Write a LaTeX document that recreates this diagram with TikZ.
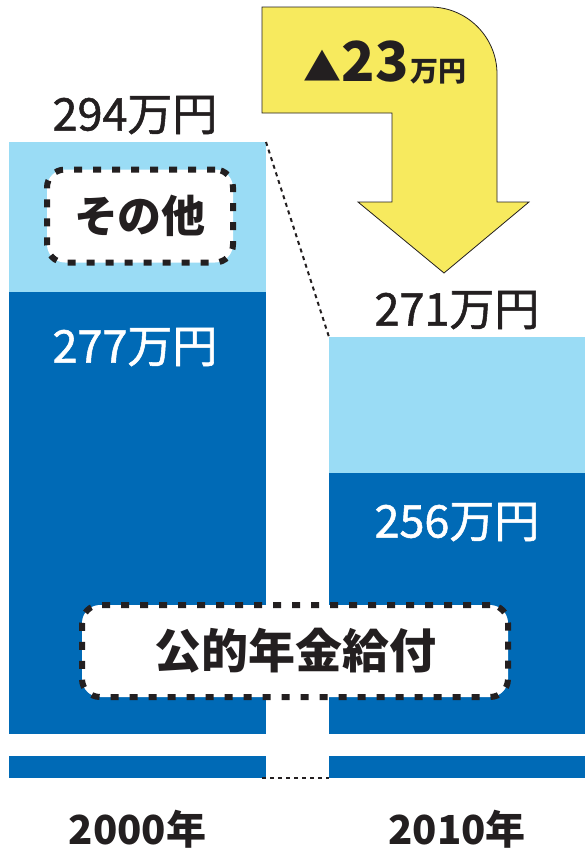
\documentclass[tikz,border=0pt]{standalone}
\usepackage{fontspec}
\setmainfont{Noto Sans CJK JP}
\newfontfamily\numfont[FakeBold=1.2]{Noto Sans CJK JP}
\usetikzlibrary{positioning}
\definecolor{paleblue}{HTML}{9ADCF5}
\definecolor{deepblue}{HTML}{006AB6}
\definecolor{pennyyellow}{HTML}{F7EA5E}
\definecolor{inkblack}{HTML}{231F20}

\begin{document}
\begin{tikzpicture}[x=1pt,y=-1pt,
    bar/.style={inner sep=0pt,outer sep=0pt,anchor=north west,minimum width=257pt},
    amount/.style={font=\numfont\fontsize{45}{45}\selectfont,inner sep=0pt},
    year/.style={font=\bfseries\fontsize{40}{40}\selectfont,text=inkblack,inner sep=0pt},
    tag/.style={draw=inkblack,line width=6pt,dash pattern=on 8pt off 11pt,
      rounded corners=18pt,fill=white,text=inkblack,inner sep=0pt,
      font=\bfseries\fontsize{44}{44}\selectfont},
    guide/.style={draw=inkblack,line width=2pt,dash pattern=on 4pt off 4pt}]
    \useasboundingbox (0,0) rectangle (585,855);
    % 2000 bars
    \node[bar,fill=paleblue,minimum height=150pt] (other0) at (9,142) {};
    \node[bar,fill=deepblue,minimum height=442pt] (pension0) at (other0.south west) {};
    \node[bar,fill=deepblue,minimum height=22pt] (foot0) at (9,756) {};
    % 2010 bars
    \node[bar,fill=paleblue,minimum height=136pt,minimum width=256pt] (other1) at (329,337) {};
    \node[bar,fill=deepblue,minimum height=261pt,minimum width=256pt] (pension1) at (other1.south west) {};
    \node[bar,fill=deepblue,minimum height=22pt,minimum width=256pt] (foot1) at (329,756) {};

    % guide lines between the years
    \draw[guide] (other0.north east) -- (other1.north west);
    \draw[guide] ([xshift=-4pt]foot0.south east) -- (foot1.south west);

    % drop arrow
    \fill[pennyyellow,draw=inkblack,line width=0.8pt] (262,7) -- (430,7)
      .. controls (467,7) and (497,37) .. (497,74) -- (497,202) -- (529,202)
      -- (444,273) -- (358,202) -- (392,202) -- (392,113) -- (262,113) -- cycle;
    \node[text=inkblack,inner sep=0pt] (drop) at (385,62)
      {{\fontsize{38}{38}\selectfont ▲}{\bfseries\fontsize{55}{55}\selectfont 23}\,{\bfseries\fontsize{28}{28}\selectfont 万円}};

    % totals and pension amounts
    \node[amount,text=inkblack] (total0) at (135,115) {294万円};
    \node[amount,text=inkblack] (total1) at (457,310) {271万円};
    \node[amount,text=white] (amt0) at (135,347) {277万円};
    \node[amount,text=white] (amt1) at (457,522) {256万円};

    % category tags
    \node[tag,minimum width=186pt,minimum height=93pt] (othertag) at (140,216) {その他};
    \node[tag,minimum width=426pt,minimum height=92pt,
      font=\bfseries\fontsize{47}{47}\selectfont] (pensiontag) at (295,651) {公的年金給付};

    % years
    \node[year,below=32pt of foot0] (y0) {2000年};
    \node[year,below=32pt of foot1] (y1) {2010年};
\end{tikzpicture}
\end{document}
